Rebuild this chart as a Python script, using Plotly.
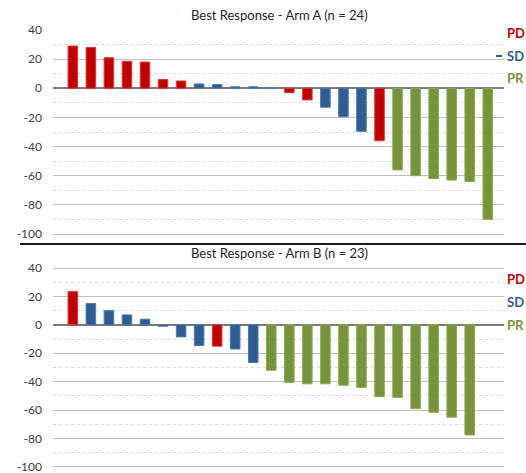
import plotly.graph_objects as go

W, H = 526, 473

# ---------------- data ----------------
arm_a_values = [29, 28, 21, 18.5, 18, 6, 5, 3, 2.5, 1, 1, 0.5,
                -3, -8, -13, -19.5, -29.5, -36, -56, -60, -62, -63, -64, -90]
arm_a_resp = ["PD", "PD", "PD", "PD", "PD", "PD", "PD", "SD", "SD", "SD", "SD", "SD",
              "PD", "PD", "SD", "SD", "SD", "PD", "PR", "PR", "PR", "PR", "PR", "PR"]

arm_b_values = [23.5, 15, 10, 7, 4, -1, -8.5, -14.5, -15, -17, -26.5,
                -32, -40.5, -41.5, -41.5, -42.5, -44, -50.5, -51, -59, -61.5, -65, -77.5]
arm_b_resp = ["PD", "SD", "SD", "SD", "SD", "SD", "SD", "SD", "PD", "SD", "SD",
              "PR", "PR", "PR", "PR", "PR", "PR", "PR", "PR", "PR", "PR", "PR", "PR"]

titles = ["Best Response - Arm A (n = 24)", "Best Response - Arm B (n = 23)"]
legend_labels = ["PD", "SD", "PR"]
y_ticks = [40, 20, 0, -20, -40, -60, -80, -100]

# ---------------- style ----------------
fill = {"PD": "#C00000", "SD": "#2F5D93", "PR": "#77933C"}
edge = {"PD": "#D83A3A", "SD": "#4A78AE", "PR": "#8DAA52"}
FONT = "Lato"

def py(px):
    return 1 - px / H

def px_x(px):
    return px / W

x_dom = [px_x(53), px_x(504)]
top_dom = [py(236.2), py(30)]
bot_dom = [py(469.1), py(265.9)]

fig = go.Figure()

for vals, resp, xa, ya in [(arm_a_values, arm_a_resp, "x", "y"),
                           (arm_b_values, arm_b_resp, "x2", "y2")]:
    fig.add_trace(go.Bar(
        x=list(range(len(vals))), y=vals,
        marker=dict(color=[fill[r] for r in resp],
                    line=dict(color=[edge[r] for r in resp], width=1)),
        width=0.53, xaxis=xa, yaxis=ya, showlegend=False,
        hoverinfo="y"))

xcommon = dict(range=[-1.1, 23.9], showgrid=False, zeroline=False,
               showticklabels=False, showline=False, ticks="")
ycommon = dict(tickvals=y_ticks,
               ticktext=[str(v) for v in y_ticks],
               showgrid=True, gridcolor="#C0C0C0", gridwidth=1,
               zeroline=True, zerolinecolor="#7A7A7A", zerolinewidth=1.5,
               showline=False, ticks="", ticklabelstandoff=10,
               ticklabeloverflow="allow",
               tickfont=dict(family=FONT, size=12, color="#404040"),
               minor=dict(dtick=10, tick0=0, showgrid=True, gridcolor="#DADADA",
                          griddash="dot", gridwidth=1),
               automargin=False, fixedrange=True)

fig.update_layout(
    width=W, height=H,
    margin=dict(l=0, r=0, t=0, b=0),
    paper_bgcolor="white", plot_bgcolor="white",
    bargap=0.47,
    xaxis=dict(domain=x_dom, anchor="y", **xcommon),
    yaxis=dict(domain=top_dom, anchor="x", range=[-101.5, 40], **ycommon),
    xaxis2=dict(domain=x_dom, anchor="y2", **xcommon),
    yaxis2=dict(domain=bot_dom, anchor="x2", range=[-101.5, 41.5], **ycommon),
    font=dict(family=FONT),
)

# titles
for t, ypx in zip(titles, [15, 253]):
    fig.add_annotation(text=t, xref="paper", yref="paper", x=px_x(279), y=py(ypx),
                       xanchor="center", yanchor="middle", showarrow=False,
                       font=dict(family=FONT, size=13, color="#262626"))

# legend texts at the right edge
for base in [(33, 56, 78), (279, 302, 325)]:
    for lab, ypx in zip(legend_labels, base):
        fig.add_annotation(text="<b>%s</b>" % lab, xref="paper", yref="paper",
                           x=px_x(505), y=py(ypx), xanchor="left", yanchor="middle",
                           showarrow=False,
                           font=dict(family=FONT, size=13, color=fill[lab]))

# small legend dash before SD in top panel
fig.add_shape(type="line", xref="paper", yref="paper",
              x0=px_x(496), x1=px_x(502), y0=py(56), y1=py(56),
              line=dict(color=fill["SD"], width=2))

# separator line between panels
fig.add_shape(type="line", xref="paper", yref="paper",
              x0=px_x(20), x1=1.0, y0=py(244), y1=py(244),
              line=dict(color="#1A1A1A", width=2))

fig.write_html("out.html")
